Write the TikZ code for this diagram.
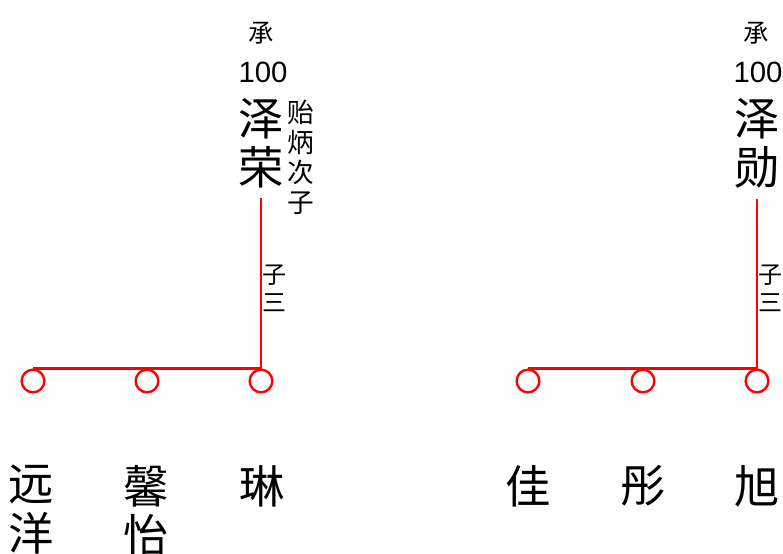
\documentclass[tikz,border=0pt]{standalone}
\usepackage{fontspec}
\setmainfont{Liberation Sans}
\newfontfamily\cjk{Noto Sans CJK SC}
\usetikzlibrary{positioning}

\begin{document}
\begin{tikzpicture}[x=0.75pt, y=-0.75pt,
  gen/.style={font=\cjk\fontsize{19}{19}\selectfont, inner sep=0pt},
  num/.style={font=\fontsize{22}{22}\selectfont, inner sep=0pt},
  person/.style={font=\cjk\fontsize{34}{37}\selectfont, align=center, inner sep=0pt, anchor=north},
  note/.style={font=\cjk\fontsize{20}{22.5}\selectfont, align=center, inner sep=0pt, anchor=north},
  rank/.style={font=\cjk\fontsize{18}{21}\selectfont, align=center, inner sep=0pt, anchor=north},
  kid/.style={circle, draw=red, line width=1.8pt, minimum size=17pt, inner sep=0pt},
  link/.style={red, line width=1.8pt}]
  \useasboundingbox (0,0) rectangle (783,554);
  \clip (0,0) rectangle (783,554);

  % left branch
  \node[gen] (genL) at (261,33) {承};
  \node[num] (numL) at (263,72) {100};
  \node[person] (zerong) at (261,98) {泽\\荣};
  \node[note] (noteL) at (301,100) {贻\\炳\\次\\子};
  \node[rank] (rankL) at (274,265) {子\\三};
  \node[kid] (kYuan) at (33,381) {};
  \node[kid] (kXin) at (147,381) {};
  \node[kid] (kLin) at (261,381) {};
  \draw[link] (zerong.south) ++(0,10) |- (kYuan.north);
  \node[person] (yuan) at (31,465) {远\\洋};
  \node[person] (xin) at (146,465) {馨\\怡};
  \node[person] (lin) at (262,465) {琳};

  % right branch
  \node[gen] (genR) at (756,33) {承};
  \node[num] (numR) at (758,72) {100};
  \node[person] (zexun) at (757,98) {泽\\勋};
  \node[rank] (rankR) at (770,265) {子\\三};
  \node[kid] (kJia) at (528,381) {};
  \node[kid] (kTong) at (643,381) {};
  \node[kid] (kXu) at (757,381) {};
  \draw[link] (zexun.south) ++(0,10) |- (kJia.north);
  \node[person] (jia) at (528,465) {佳};
  \node[person] (tong) at (643,465) {彤};
  \node[person] (xu) at (757,465) {旭};
\end{tikzpicture}
\end{document}
